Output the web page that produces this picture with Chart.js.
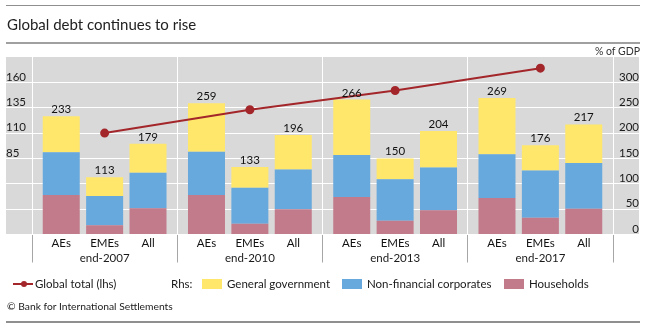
<!DOCTYPE html>
<html>
<head>
<meta charset="utf-8">
<script src="https://cdn.jsdelivr.net/npm/chart.js@4.4.1/dist/chart.umd.min.js"></script>
<style>
  body { margin: 0; background: #fff; }
  #wrap { position: relative; width: 646px; height: 325px; font-family: Lato, sans-serif; color: #1a1a1a; overflow: hidden; }
  #wrap canvas { position: absolute; left: 0; top: 0; }
  .rule { position: absolute; left: 6px; width: 634px; background: #8f8f8f; }
  .txt { position: absolute; white-space: nowrap; line-height: 1; }
  .box { position: absolute; width: 20px; height: 10px; }
</style>
</head>
<body>
<div id="wrap">
  <canvas id="chart"></canvas>
  <div class="rule" style="top:5px;height:1px;"></div>
  <div class="txt" style="left:7px;top:17px;font-size:15px;color:#222;">Global debt continues to rise</div>
  <div class="rule" style="top:42px;height:2px;background:#a0a0a0;"></div>
  <div class="txt" style="right:6px;top:46px;font-size:10.5px;color:#333;">% of GDP</div>

  <!-- legend -->
  <div style="position:absolute;left:13px;top:283px;width:20px;height:2px;background:#a3262a;"></div>
  <div style="position:absolute;left:21px;top:281px;width:6px;height:6px;border-radius:50%;background:#a3262a;"></div>
  <div class="txt" style="left:35px;top:278px;font-size:11.5px;">Global total (lhs)</div>
  <div class="txt" style="left:171px;top:278px;font-size:11.5px;">Rhs:</div>
  <div class="box" style="left:202px;top:279px;background:#ffe76b;"></div>
  <div class="txt" style="left:227px;top:278px;font-size:11.5px;">General government</div>
  <div class="box" style="left:342px;top:279px;background:#67a9dc;"></div>
  <div class="txt" style="left:367px;top:278px;font-size:11.5px;">Non-financial corporates</div>
  <div class="box" style="left:504px;top:279px;background:#c27b8b;"></div>
  <div class="txt" style="left:529px;top:278px;font-size:11.5px;">Households</div>

  <div class="txt" style="left:7px;top:301px;font-size:10.3px;color:#222;">© Bank for International Settlements</div>
  <div class="rule" style="top:321px;height:1.5px;"></div>
</div>

<script>
// periods and country groups
const periods = ['end-2007', 'end-2010', 'end-2013', 'end-2017'];
const regions = ['AEs', 'EMEs', 'All'];

// debt by sector, % of GDP (rhs)
const householdsAEs = [78, 78, 74, 72];
const householdsEMEs = [18, 21, 27, 33];
const householdsAll = [52, 50, 48, 51];

const corporatesAEs = [84, 85, 83, 86];
const corporatesEMEs = [58, 71, 82, 93];
const corporatesAll = [70, 78, 84, 90];

const governmentAEs = [71, 96, 109, 111];
const governmentEMEs = [37, 41, 41, 50];
const governmentAll = [57, 68, 72, 76];

// global total (lhs)
const globalTotal = [110, 133, 152, 174];

// axis labels
const leftTickLabels = [85, 110, 135, 160];
const rightTickLabels = [0, 50, 100, 150, 200, 250, 300];

const sectors = [
  { label: 'Households', color: '#c27b8b', values: [householdsAEs, householdsEMEs, householdsAll] },
  { label: 'Non-financial corporates', color: '#67a9dc', values: [corporatesAEs, corporatesEMEs, corporatesAll] },
  { label: 'General government', color: '#ffe76b', values: [governmentAEs, governmentEMEs, governmentAll] }
];

Chart.defaults.font.family = 'Lato, sans-serif';
Chart.defaults.color = '#1a1a1a';

const datasets = [];
sectors.forEach(s => {
  regions.forEach((r, ri) => {
    datasets.push({
      type: 'bar',
      label: s.label + ' ' + r,
      data: s.values[ri],
      stack: r,
      backgroundColor: s.color,
      yAxisID: 'yR',
      order: 1,
      categoryPercentage: 0.896,
      barPercentage: 0.853
    });
  });
});
datasets.push({
  type: 'line',
  label: 'Global total (lhs)',
  data: globalTotal,
  yAxisID: 'yL',
  borderColor: '#a3262a',
  backgroundColor: '#a3262a',
  borderWidth: 2,
  pointRadius: 3.5,
  pointHoverRadius: 3.5,
  order: 0
});

// grey panel behind the plot, including both tick label strips
const panel = {
  id: 'panel',
  beforeDraw(chart) {
    const { ctx, chartArea } = chart;
    const l = chart.scales.yL.left, r = chart.scales.yR.right;
    ctx.save();
    ctx.fillStyle = '#d9d9d9';
    ctx.fillRect(l, chartArea.top, r - l, chartArea.bottom - chartArea.top);
    ctx.restore();
  }
};

// totals over each stack and the country group names under each bar
const barLabels = {
  id: 'barLabels',
  afterDatasetsDraw(chart) {
    const { ctx, chartArea } = chart;
    ctx.save();
    ctx.fillStyle = '#111';
    ctx.textAlign = 'center';
    regions.forEach((r, ri) => {
      const top = chart.getDatasetMeta(2 * regions.length + ri);
      top.data.forEach((bar, i) => {
        const total = sectors.reduce((sum, s) => sum + s.values[ri][i], 0);
        ctx.font = '11.5px Lato, sans-serif';
        ctx.textBaseline = 'alphabetic';
        ctx.fillText(total, bar.x, bar.y - 3);
        ctx.textBaseline = 'middle';
        ctx.fillText(r, bar.x, chartArea.bottom + 9);
      });
    });
    ctx.restore();
  }
};

const hideEdge = max => c => (c.tick && c.tick.value === max) ? 'rgba(0,0,0,0)' : '#ffffff';

new Chart(document.getElementById('chart'), {
  data: { labels: periods, datasets: datasets },
  options: {
    responsive: true,
    maintainAspectRatio: false,
    animation: false,
    layout: { padding: { left: 6, right: 7, top: 57, bottom: 45.5 } },
    plugins: { legend: { display: false }, tooltip: { enabled: false } },
    scales: {
      x: {
        stacked: true,
        offset: true,
        border: { display: false },
        grid: { color: '#ffffff', tickColor: '#a6a6a6', tickLength: 28, offset: true },
        ticks: { padding: -11, font: { size: 11.5 }, maxRotation: 0 },
        afterFit: s => { s.height = 45; }
      },
      yR: {
        position: 'right',
        stacked: true,
        min: 0,
        max: 350,
        border: { display: false },
        grid: { color: hideEdge(350), tickColor: hideEdge(350), tickLength: 26 },
        ticks: {
          stepSize: 50,
          crossAlign: 'far',
          labelOffset: -5.5,
          font: { size: 11.5 },
          callback: v => rightTickLabels.includes(v) ? v : ''
        },
        afterFit: s => { s.width = 26; }
      },
      yL: {
        position: 'left',
        min: 10,
        max: 185,
        border: { display: false },
        grid: { drawOnChartArea: false, color: hideEdge(185), tickColor: hideEdge(185), tickLength: 26 },
        ticks: {
          stepSize: 25,
          crossAlign: 'far',
          labelOffset: -5.5,
          font: { size: 11.5 },
          callback: v => leftTickLabels.includes(v) ? v : ''
        },
        afterFit: s => { s.width = 26; }
      }
    }
  },
  plugins: [panel, barLabels]
});
</script>
</body>
</html>
